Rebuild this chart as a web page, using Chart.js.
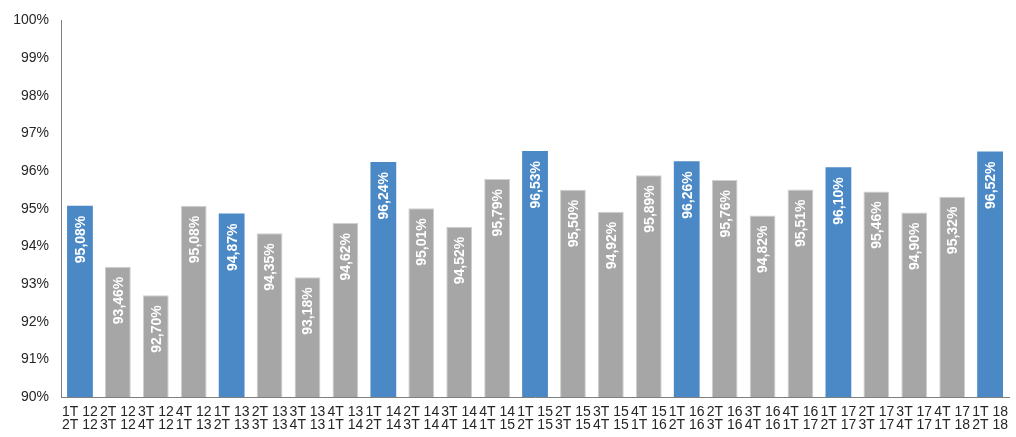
<!DOCTYPE html>
<html>
<head>
<meta charset="utf-8">
<script src="https://cdn.jsdelivr.net/npm/chart.js@4"></script>
<style>
  html, body { margin: 0; padding: 0; background: #ffffff; }
  #c { display: block; }
</style>
</head>
<body>
<canvas id="c" width="1016" height="437"></canvas>
<script>
// Quarters (the extra last entry only feeds the second label line)
const quarters = [
  "1T 12","2T 12","3T 12","4T 12",
  "1T 13","2T 13","3T 13","4T 13",
  "1T 14","2T 14","3T 14","4T 14",
  "1T 15","2T 15","3T 15","4T 15",
  "1T 16","2T 16","3T 16","4T 16",
  "1T 17","2T 17","3T 17","4T 17",
  "1T 18","2T 18"
];
const values = [
  95.08, 93.46, 92.70, 95.08,
  94.87, 94.35, 93.18, 94.62,
  96.24, 95.01, 94.52, 95.79,
  96.53, 95.50, 94.92, 95.89,
  96.26, 95.76, 94.82, 95.51,
  96.10, 95.46, 94.90, 95.32,
  96.52
];
const yMin = 90, yMax = 100, yStep = 1;

const labels = values.map((v, i) => [quarters[i], quarters[i + 1]]);
const isFirstQuarter = values.map((v, i) => quarters[i].startsWith("1T"));
const BLUE = "#4a89c6", GRAY = "#a6a6a6";

const dataLabelPlugin = {
  id: "dataLabelPlugin",
  afterDatasetsDraw(chart) {
    const ctx = chart.ctx;
    const meta = chart.getDatasetMeta(0);
    const ds = chart.data.datasets[0];
    ctx.save();
    ctx.fillStyle = "#ffffff";
    ctx.font = "bold 14px 'Liberation Sans', Arial, sans-serif";
    ctx.textAlign = "right";
    ctx.textBaseline = "middle";
    meta.data.forEach((bar, i) => {
      const txt = ds.data[i].toFixed(2).replace(".", ",") + "%";
      ctx.save();
      ctx.translate(bar.x, bar.y + 10);
      ctx.rotate(-Math.PI / 2);
      ctx.fillText(txt, 0, 1);
      ctx.restore();
    });
    ctx.restore();
  }
};

new Chart(document.getElementById("c"), {
  type: "bar",
  data: {
    labels: labels,
    datasets: [{
      data: values,
      backgroundColor: isFirstQuarter.map(b => b ? BLUE : GRAY),
      borderColor: isFirstQuarter.map(b => b ? BLUE : "#cfcfcf"),
      borderWidth: isFirstQuarter.map(b => b ? 0 : 1),
      categoryPercentage: 1.0,
      barPercentage: 0.68
    }]
  },
  options: {
    responsive: false,
    animation: false,
    devicePixelRatio: 1,
    layout: { padding: { top: 20, right: 0, bottom: 0, left: 0 } },
    plugins: {
      legend: { display: false },
      tooltip: { enabled: false }
    },
    scales: {
      x: {
        grid: { display: false, drawTicks: false },
        border: { display: true, color: "#7f7f7f", width: 1 },
        ticks: {
          autoSkip: false,
          maxRotation: 0,
          minRotation: 0,
          padding: 8,
          color: "#262626",
          font: { family: "'Liberation Sans', Arial, sans-serif", size: 14, lineHeight: 0.98 }
        },
        afterFit(scale) { scale.height = 40; }
      },
      y: {
        min: yMin,
        max: yMax,
        grid: { display: false, drawTicks: false },
        border: { display: true, color: "#7f7f7f", width: 1 },
        ticks: {
          stepSize: yStep,
          padding: 12,
          color: "#262626",
          font: { family: "'Liberation Sans', Arial, sans-serif", size: 14 },
          callback: v => v + "%"
        },
        afterFit(scale) { scale.width = 61; }
      }
    }
  },
  plugins: [dataLabelPlugin]
});
</script>
</body>
</html>
